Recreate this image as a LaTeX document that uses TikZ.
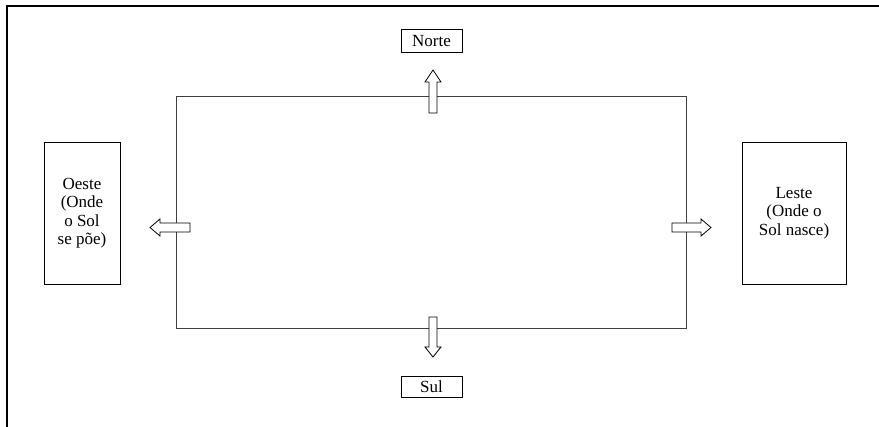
\documentclass[tikz,border=0pt]{standalone}
\usepackage{fontspec}
\setmainfont{Liberation Serif}
\begin{document}
\begin{tikzpicture}[x=1pt,y=-1pt,
  lbl/.style={draw, line width=0.9pt, inner sep=0pt, align=center,
    font=\fontsize{17}{18.4}\selectfont},
  blockarrow/.style={draw, line width=0.8pt, fill=white, line join=miter},
  frameline/.style={line width=1.5pt},
  field/.style={draw, line width=1pt, black!75}]
\useasboundingbox (0,0) rectangle (879,427);
% outer frame (partially visible)
\coordinate (fbl) at (7,427);
\coordinate (ftl) at (7,6);
\coordinate (ftr) at (879,6);
\draw[frameline] (fbl) -- (ftl) -- (ftr);
% central rectangle
\node[field, minimum width=510pt, minimum height=232pt, inner sep=0pt] (field) at (431,213) {};
% labels
\node[lbl, minimum width=61pt, minimum height=23pt] (norte) at (431.5,41) {Norte};
\node[lbl, minimum width=61pt, minimum height=21pt] (sul) at (431.5,386.5) {Sul};
\node[lbl, minimum width=76pt, minimum height=142pt] (oeste) at (82,213) {Oeste\\(Onde\\o Sol\\se põe)};
\node[lbl, minimum width=104pt, minimum height=142pt] (leste) at (794,213) {Leste\\(Onde o\\Sol nasce)};
% block arrows
\draw[blockarrow] (429,113) -- (429,82) -- (425,82) -- (433,70) -- (441,82) -- (437,82) -- (437,113) -- cycle;
\draw[blockarrow] (429,317) -- (429,347) -- (425,347) -- (433,357) -- (441,347) -- (437,347) -- (437,317) -- cycle;
\draw[blockarrow] (190,223) -- (160,223) -- (160,219) -- (150,227.5) -- (160,236) -- (160,232) -- (190,232) -- cycle;
\draw[blockarrow] (672,223) -- (701,223) -- (701,219) -- (711,227.5) -- (701,236) -- (701,232) -- (672,232) -- cycle;
\end{tikzpicture}
\end{document}
